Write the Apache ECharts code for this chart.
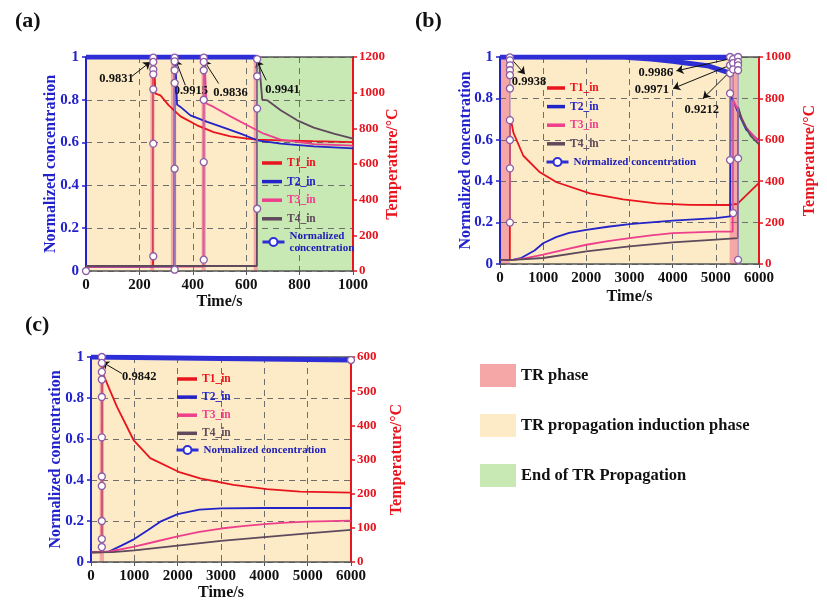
<!DOCTYPE html>
<html>
<head>
<meta charset="utf-8">
<script src="https://cdn.jsdelivr.net/npm/echarts@6/dist/echarts.min.js"></script>
<style>
  html, body { margin: 0; background: #fff; }
  #chart { width: 827px; height: 613px; }
</style>
</head>
<body>
<div id="chart"></div>
<script>
// ---------- panel (a) ----------
const a_T1 = [[0,25],[251,25],[252,1300],[260,995],[279,985],[310,929],[354,867],[416,817],[478,779],[541,755],[604,742],[641,737],[729,733],[850,728],[1000,723]];
const a_T2 = [[0,25],[331,25],[332,1300],[341,933],[354,920],[391,873],[454,836],[516,804],[579,770],[641,733],[729,714],[853,699],[1000,688]];
const a_T3 = [[0,25],[440,25],[441,1300],[451,939],[478,920],[541,867],[604,817],[666,770],[729,737],[853,711],[1000,703]];
const a_T4 = [[0,28],[640,28],[641,1300],[660,961],[679,957],[729,901],[791,845],[853,804],[928,770],[1000,742]];
const a_conc = [[0,1],[640,1]];
const a_dropX = [0, 252, 332, 441, 641];
const a_dropY = [[0],[0.997,0.977,0.942,0.919,0.849,0.595,0.069],[0.997,0.98,0.938,0.879,0.478,0.006],[0.997,0.977,0.938,0.8,0.509,0.053],[0.99,0.91,0.759,0.291]];
const a_yellow = [[0,640]];
const a_green = [[640,1000]];
const a_pink = [[241,256],[318,338],[433,449],[628,643]];
const a_arrows = [[172,0.91,241,0.977],[372,0.868,335,0.988],[497,0.876,441,0.985],[675,0.891,639,0.985]];
const a_notes = [[114,0.896,'0.9831'],[393,0.844,'0.9915'],[541,0.835,'0.9836'],[736,0.849,'0.9941']];

// ---------- panel (b) ----------
const b_T1 = [[0,20],[228,20],[232,715],[250,700],[310,635],[540,523],[925,443],[1311,395],[2082,341],[2853,312],[3624,293],[4395,286],[5280,285],[5500,290],[6000,392]];
const b_T2 = [[0,20],[300,20],[500,30],[800,65],[1000,100],[1300,130],[1600,150],[2000,165],[2500,180],[3000,193],[4000,210],[5000,222],[5330,230],[5340,820],[5500,740],[5700,650],[6000,595]];
const b_T3 = [[0,20],[300,20],[600,28],[1000,45],[1500,70],[2000,93],[2500,110],[3000,125],[3500,138],[4000,149],[5000,156],[5390,157],[5400,790],[5500,750],[5700,660],[6000,590]];
const b_T4 = [[0,20],[300,20],[1000,29],[2000,61],[3000,85],[4000,104],[5000,118],[5510,125],[5515,760],[5600,700],[5800,620],[6000,578]];
const b_conc1 = [[0,1],[5515,1]];
const b_conc2 = [[0,1],[4000,0.999],[5400,0.9971]];
const b_conc3 = [[0,1],[2800,1],[3500,0.99],[4000,0.979],[4800,0.958],[5300,0.925],[5330,0.921]];
const b_dropX = [230, 5330, 5400, 5515];
const b_dropY = [[0.998,0.984,0.96,0.936,0.912,0.848,0.695,0.599,0.462,0.2],[1,0.96,0.921,0.824,0.502],[0.99,0.97,0.94,0.246],[1,0.976,0.96,0.936,0.51,0.02]];
const b_yellow = [[0,5515]];
const b_green = [[5515,6000]];
const b_pink = [[0,230],[5320,5500]];
const b_arrows = [[230,0.998,578,0.917],[5514,1.0,4088,0.933],[5514,0.976,4010,0.848],[5322,0.928,4704,0.8]];
const b_notes = [[671,0.88,'0.9938'],[3609,0.923,'0.9986'],[3517,0.84,'0.9971'],[4674,0.743,'0.9212']];

// ---------- panel (c) ----------
const c_T1 = [[0,28],[248,28],[252,650],[290,547],[445,500],[600,454],[982,357],[1367,304],[2020,264],[2519,245],[3287,226],[4057,213],[4825,206],[6000,203]];
const c_T2 = [[0,28],[400,30],[700,48],[1000,67],[1300,92],[1600,118],[2000,140],[2500,153],[3000,157],[4000,158],[6000,158]];
const c_T3 = [[0,28],[400,30],[1000,45],[1500,60],[2000,75],[2500,88],[3000,98],[3500,105],[4000,111],[4500,115],[5000,118],[6000,121]];
const c_T4 = [[0,28],[500,29],[1000,34],[2000,48],[3000,62],[4000,73],[5000,84],[6000,94]];
const c_conc = [[0,1],[6000,0.985]];
const c_dropX = [250, 6000];
const c_dropY = [[1,0.971,0.927,0.89,0.805,0.608,0.417,0.371,0.2,0.112,0.073],[0.985]];
const c_yellow = [[0,6000]];
const c_green = [];
const c_pink = [[200,300]];
const c_arrows = [[714,0.919,253,0.976]];
const c_notes = [[1113,0.903,'0.9842']];

const tNames = ['T1_in', 'T2_in', 'T3_in', 'T4_in'];
const phaseNames = ['TR phase', 'TR propagation induction phase', 'End of TR Propagation'];

const FONT = '"Liberation Serif", "Times New Roman", serif';
const T_COLORS = ['#e8141e', '#2323c8', '#ee3f8c', '#5e4a5c'];
const AX_BLUE = '#2222cc';
const AX_RED = '#e8141e';
const CONC_BLUE = '#2e2ed6';
const YELLOW = '#fcebc6', GREEN = '#c8e8b4', PINK = '#f5a6a6';
const GAP = ['-', '-'];

const panels = [
  { grid: {left: 86, top: 57, width: 267, height: 214}, xMax: 1000, xInt: 200, tMax: 1200, tInt: 200,
    T: [a_T1, a_T2, a_T3, a_T4], conc: [a_conc], dropX: a_dropX, dropY: a_dropY,
    yellow: a_yellow, green: a_green, pink: a_pink, arrows: a_arrows, notes: a_notes,
    label: {text: '(a)', left: 15, top: 10}, gaps: [23, 27, 32],
    legT: {left: 262, top: 157, w: 20, gap: 6.6}, legC: {left: 261, top: 230, w: 22, text: 'Normalized\nconcentration'} },
  { grid: {left: 500, top: 57, width: 259, height: 207}, xMax: 6000, xInt: 1000, tMax: 1000, tInt: 200,
    T: [b_T1, b_T2, b_T3, b_T4], conc: [b_conc1, b_conc2, b_conc3], dropX: b_dropX, dropY: b_dropY,
    yellow: b_yellow, green: b_green, pink: b_pink, arrows: b_arrows, notes: b_notes,
    label: {text: '(b)', left: 415, top: 10}, gaps: [25, 26, 43],
    legT: {left: 547, top: 82, w: 18, gap: 6.6}, legC: {left: 545, top: 156, w: 22, text: 'Normalized concentration'} },
  { grid: {left: 91, top: 357, width: 260, height: 205}, xMax: 6000, xInt: 1000, tMax: 600, tInt: 100,
    T: [c_T1, c_T2, c_T3, c_T4], conc: [c_conc], dropX: c_dropX, dropY: c_dropY,
    yellow: c_yellow, green: c_green, pink: c_pink, arrows: c_arrows, notes: c_notes,
    label: {text: '(c)', left: 25, top: 314}, gaps: [23, 27, 38],
    legT: {left: 177, top: 373, w: 20, gap: 6.1}, legC: {left: 175, top: 444, w: 22, text: 'Normalized concentration'} }
];

function joinBreaks(parts) {
  const out = [];
  parts.forEach((p, i) => { if (i) out.push(GAP); p.forEach(d => out.push(d)); });
  return out;
}

function dropData(xs, ys) {
  return joinBreaks(xs.map((x, i) => ys[i].map(y => [x, y])));
}

const dashed = {show: true, lineStyle: {color: '#6e6e6e', type: [6, 5], width: 1}};
const boldText = (size, color) => ({fontFamily: FONT, fontWeight: 'bold', fontSize: size, color: color});
const plain = v => String(v);

const option = {
  animation: false,
  backgroundColor: '#fff',
  title: [], grid: [], xAxis: [], yAxis: [], series: [], legend: []
};

panels.forEach((p, g) => {
  option.title.push({text: p.label.text, left: p.label.left, top: p.label.top, padding: 0,
    textStyle: boldText(22, '#111')});
  option.grid.push(Object.assign({outerBoundsMode: 'none', containLabel: false}, p.grid));

  option.xAxis.push({
    type: 'value', gridIndex: g, min: 0, max: p.xMax, interval: p.xInt, position: 'bottom', z: 1.5,
    name: 'Time/s', nameLocation: 'middle', nameGap: p.gaps[0], nameMoveOverlap: false,
    nameTextStyle: boldText(16, '#111'),
    axisLine: {onZero: false, lineStyle: {color: '#555', width: 1.5}},
    axisTick: {show: true, length: 4, lineStyle: {color: '#555'}},
    axisLabel: Object.assign({margin: 7, formatter: plain}, boldText(15, '#111')),
    splitLine: dashed
  });
  option.xAxis.push({
    type: 'value', gridIndex: g, min: 0, max: p.xMax, position: 'top', z: 1.5,
    axisLine: {show: true, onZero: false, lineStyle: {color: '#555', width: 1.5}},
    axisTick: {show: false}, axisLabel: {show: false}, splitLine: {show: false}
  });
  option.yAxis.push({
    type: 'value', gridIndex: g, min: 0, max: 1, interval: 0.2, position: 'left', z: 1.5,
    name: 'Normalized concentration', nameLocation: 'middle', nameRotate: 90, nameGap: p.gaps[1],
    nameMoveOverlap: false, nameTextStyle: boldText(16, AX_BLUE),
    axisLine: {show: true, onZero: false, lineStyle: {color: AX_BLUE, width: 2}},
    axisTick: {show: true, length: 4, lineStyle: {color: AX_BLUE, width: 1.5}},
    axisLabel: Object.assign({margin: 7, formatter: plain}, boldText(15, AX_BLUE)),
    splitLine: dashed
  });
  option.yAxis.push({
    type: 'value', gridIndex: g, min: 0, max: p.tMax, interval: p.tInt, position: 'right', z: 1.5,
    name: 'Temperature/°C', nameLocation: 'middle', nameRotate: 90, nameGap: p.gaps[2],
    nameMoveOverlap: false, nameTextStyle: boldText(16, AX_RED),
    axisLine: {show: true, onZero: false, lineStyle: {color: AX_RED, width: 2}},
    axisTick: {show: true, length: 4, lineStyle: {color: AX_RED, width: 1.5}},
    axisLabel: Object.assign({margin: 6, formatter: plain}, boldText(13, AX_RED)),
    splitLine: {show: false}
  });

  const xi = 2 * g, yl = 2 * g, yr = 2 * g + 1;
  const bands = (ranges) => ranges.map(r => [{xAxis: r[0]}, {xAxis: r[1]}]);
  const phase = (name, color, ranges) => ({
    name: name, type: 'line', xAxisIndex: xi, yAxisIndex: yl, data: [], color: color,
    itemStyle: {color: color}, silent: true,
    markArea: {silent: true, z: 1, itemStyle: {color: color}, label: {show: false}, data: bands(ranges)}
  });
  option.series.push(phase(phaseNames[1], YELLOW, p.yellow));
  option.series.push(phase(phaseNames[2], GREEN, p.green));
  option.series.push(phase(phaseNames[0], PINK, p.pink));

  p.T.forEach((d, k) => {
    option.series.push({
      name: tNames[k], type: 'line', xAxisIndex: xi, yAxisIndex: yr, data: d, z: 3,
      symbol: 'none', showSymbol: false, color: T_COLORS[k],
      lineStyle: {color: T_COLORS[k], width: 1.8}
    });
  });

  option.series.push({
    name: 'Normalized concentration', type: 'line', xAxisIndex: xi, yAxisIndex: yl, z: 4,
    data: joinBreaks(p.conc), symbol: 'emptyCircle', showSymbol: false, color: CONC_BLUE,
    lineStyle: {color: CONC_BLUE, width: 5}
  });

  option.series.push({
    name: 'conc points', type: 'line', xAxisIndex: xi, yAxisIndex: yl, z: 5,
    data: dropData(p.dropX, p.dropY), symbol: 'circle', symbolSize: 7, showSymbol: true,
    itemStyle: {color: '#fff', borderColor: '#8c5ca6', borderWidth: 1.3},
    lineStyle: {color: '#a07ab8', width: 1.2}
  });

  option.series.push({
    name: 'notes', type: 'line', xAxisIndex: xi, yAxisIndex: yl, data: [], silent: true,
    markLine: {
      silent: true, symbol: ['none', 'arrow'], symbolSize: 7, animation: false,
      lineStyle: {color: '#111', width: 1, type: 'solid'}, label: {show: false},
      data: p.arrows.map(a => [{coord: [a[0], a[1]]}, {coord: [a[2], a[3]]}])
    },
    markPoint: {
      silent: true, symbol: 'rect', symbolSize: 1, itemStyle: {color: 'rgba(0,0,0,0)'},
      label: Object.assign({show: true, position: 'inside'}, boldText(12.5, '#111')),
      data: p.notes.map(n => ({coord: [n[0], n[1]], value: n[2], label: {formatter: n[2]}}))
    }
  });

  option.legend.push({
    orient: 'vertical', left: p.legT.left, top: p.legT.top, padding: 0, selectedMode: false,
    icon: 'rect', itemWidth: p.legT.w, itemHeight: 3.5, itemGap: p.legT.gap,
    textStyle: boldText(11.5, '#111'),
    data: tNames.map((n, k) => ({name: n, textStyle: {color: T_COLORS[k]}}))
  });
  option.legend.push({
    orient: 'vertical', left: p.legC.left, top: p.legC.top, padding: 0, selectedMode: false,
    itemWidth: p.legC.w, itemHeight: 10, lineStyle: {width: 3},
    formatter: () => p.legC.text,
    textStyle: Object.assign({lineHeight: 12, align: 'center'}, boldText(11, '#2020b8')),
    data: ['Normalized concentration']
  });
});

option.legend.push({
  orient: 'vertical', left: 480, top: 364, padding: 0, selectedMode: false,
  icon: 'rect', itemWidth: 36, itemHeight: 23, itemGap: 27,
  textStyle: boldText(16.5, '#111'),
  data: phaseNames
});

const chart = echarts.init(document.getElementById('chart'));
chart.setOption(option);
</script>
</body>
</html>
